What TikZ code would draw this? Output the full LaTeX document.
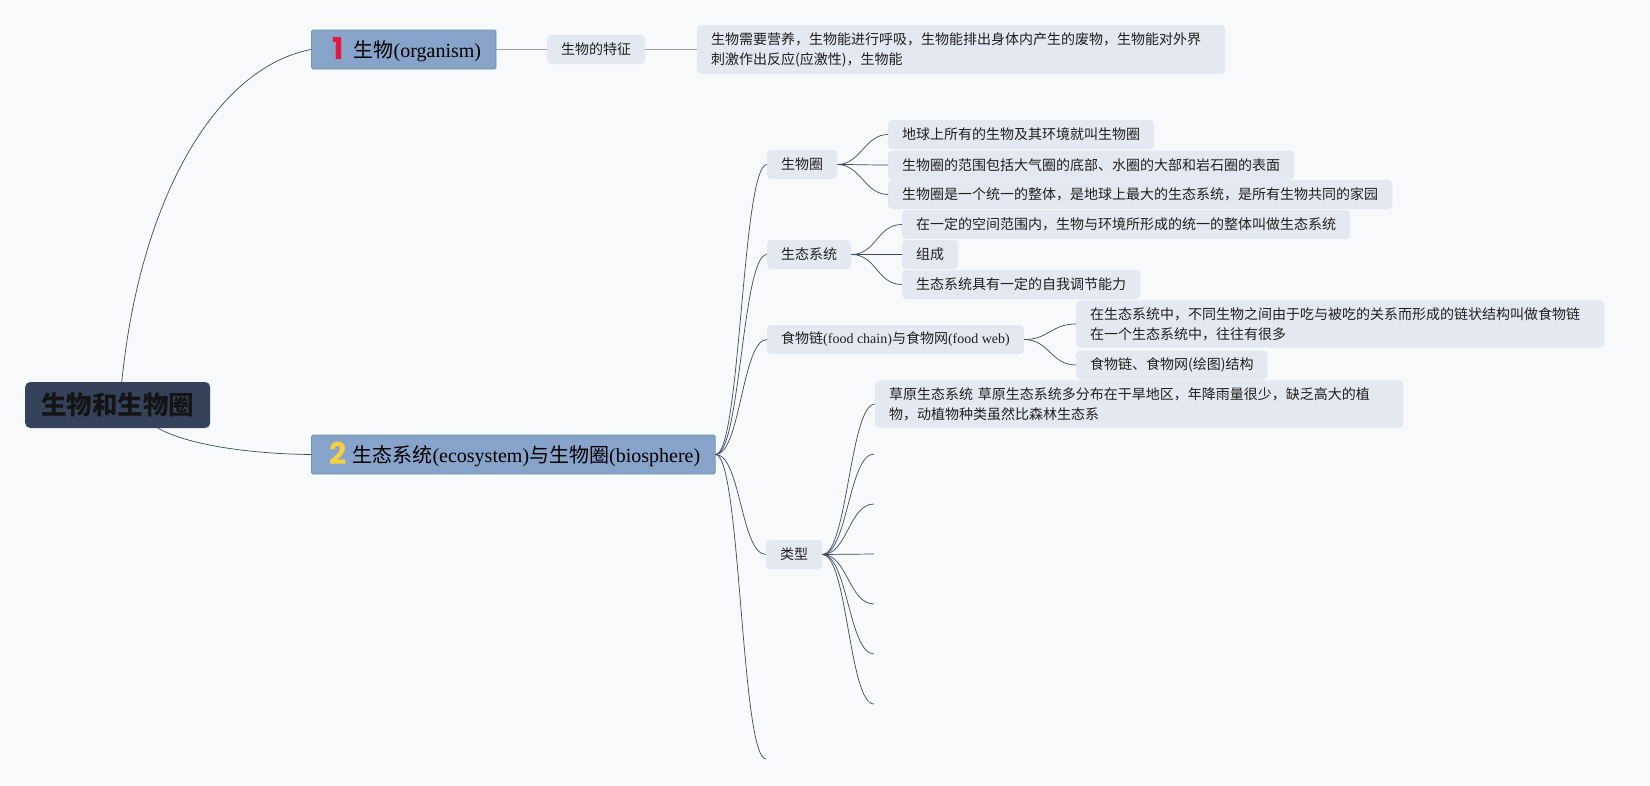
\documentclass[tikz,border=0pt]{standalone}
\usepackage{fontspec}
\setmainfont{Liberation Serif}
\newfontfamily\cjk{Noto Sans CJK SC}
\newfontfamily\numfont{Poppins}
\usepackage{tikz}
\definecolor{bgpage}{HTML}{F8F9FA}
\definecolor{rootfill}{HTML}{34435A}
\definecolor{mainfill}{HTML}{87A3C9}
\definecolor{mainedge}{HTML}{6A9C9C}
\definecolor{subfill}{HTML}{E4E9F1}
\definecolor{linkcol}{HTML}{3E4762}
\definecolor{linkgray}{HTML}{9CA1A8}
\definecolor{numred}{HTML}{E5173F}
\definecolor{numyellow}{HTML}{F4D240}
\newcommand{\zh}[1]{{\cjk #1}}
\tikzset{
  rootnode/.style={fill=rootfill, rounded corners=5pt, inner xsep=16pt, minimum height=46pt,
    font=\cjk\bfseries\fontsize{25.5}{30}\selectfont, text=black!92},
  mainnode/.style={fill=mainfill, draw=mainedge, line width=0.8pt, rounded corners=1.5pt,
    inner xsep=15pt, minimum height=39pt, font=\fontsize{20}{24}\selectfont, text=black},
  subnode/.style={fill=subfill, rounded corners=4pt, inner xsep=14pt, inner ysep=0pt,
    minimum height=29pt, font=\cjk\fontsize{14}{20}\selectfont, text=black!88},
  notebox/.style={subnode, text width=500pt, align=left, inner ysep=7pt},
  link/.style={draw=linkcol, line width=0.7pt},
  plainlink/.style={draw=linkgray, line width=1.1pt}
}
\begin{document}
\begin{tikzpicture}[x=1pt,y=-1pt]
    \useasboundingbox (0,0) rectangle (1650,785);
    \fill[bgpage] (0,0) rectangle (1650,785);
    % root and main branches
    \node[rootnode,anchor=west] (root) at (25,405) {生物和生物圈};
    \node[mainnode,anchor=west] (org) at (311,49.5) {\hspace{6pt}\raisebox{-2pt}{\numfont\bfseries\fontsize{30}{30}\selectfont\color{numred}1}\hspace{10pt}\zh{生物}(organism)};
    \node[mainnode,anchor=west] (eco) at (311,454.5) {\hspace{3pt}\raisebox{-2pt}{\numfont\bfseries\fontsize{30}{30}\selectfont\color{numyellow}2}\hspace{6pt}\zh{生态系统}(ecosystem)\zh{与生物圈}(biosphere)};
    % organism
    \node[subnode,anchor=west] (feat) at (547,49.5) {生物的特征};
    \node[notebox,anchor=west] (featnote) at (697,49.5) {生物需要营养，生物能进行呼吸，生物能排出身体内产生的废物，生物能对外界\\刺激作出反应(应激性)，生物能};
    % ecosystem and biosphere
    \node[subnode,anchor=west] (sw) at (767,164.5) {生物圈};
    \node[subnode,anchor=west] (sw1) at (888,134.5) {地球上所有的生物及其环境就叫生物圈};
    \node[subnode,anchor=west] (sw2) at (888,165) {生物圈的范围包括大气圈的底部、水圈的大部和岩石圈的表面};
    \node[subnode,anchor=west] (sw3) at (888,194.5) {生物圈是一个统一的整体，是地球上最大的生态系统，是所有生物共同的家园};
    \node[subnode,anchor=west] (st) at (767,254.5) {生态系统};
    \node[subnode,anchor=west] (st1) at (902,224.5) {在一定的空间范围内，生物与环境所形成的统一的整体叫做生态系统};
    \node[subnode,anchor=west] (st2) at (902,254.5) {组成};
    \node[subnode,anchor=west] (st3) at (902,284.5) {生态系统具有一定的自我调节能力};
    \node[subnode,anchor=west] (fc) at (767,339.5) {食物链{\rmfamily(food chain)}与食物网{\rmfamily(food web)}};
    \node[notebox,anchor=west] (fc1) at (1076,324) {在生态系统中，不同生物之间由于吃与被吃的关系而形成的链状结构叫做食物链\\在一个生态系统中，往往有很多};
    \node[subnode,anchor=west] (fc2) at (1076,365) {食物链、食物网(绘图)结构};
    \node[subnode,anchor=west] (ty) at (766,554.5) {类型};
    \node[notebox,anchor=west] (ty1) at (875,404) {草原生态系统 草原生态系统多分布在干旱地区，年降雨量很少，缺乏高大的植\\物，动植物种类虽然比森林生态系};
    \coordinate (ty2) at (874,454);
    \coordinate (ty3) at (874,504);
    \coordinate (ty4) at (874,554);
    \coordinate (ty5) at (874,604);
    \coordinate (ty6) at (874,654);
    \coordinate (ty7) at (874,704);
    \coordinate (ecoend) at (766,759);
    % connectors
    \draw[link] (root.80) .. controls (140,200) and (215,68) .. (org.west);
    \draw[link] (root.-30) .. controls (190,446) and (255,454) .. (eco.west);
    \draw[plainlink] (org.east) -- (feat.west);
    \draw[plainlink] (feat.east) -- (featnote.west);
    \draw[link] (eco.east) .. controls +(25,0) and +(-25,0) .. (sw.west);
    \draw[link] (eco.east) .. controls +(25,0) and +(-25,0) .. (st.west);
    \draw[link] (eco.east) .. controls +(25,0) and +(-25,0) .. (fc.west);
    \draw[link] (eco.east) .. controls +(25,0) and +(-25,0) .. (ty.west);
    \draw[link] (eco.east) .. controls +(25,0) and +(-25,0) .. (ecoend);
    \draw[link] (sw.east) .. controls +(23,0) and +(-23,0) .. (sw1.west);
    \draw[link] (sw.east) .. controls +(23,0) and +(-23,0) .. (sw2.west);
    \draw[link] (sw.east) .. controls +(23,0) and +(-23,0) .. (sw3.west);
    \draw[link] (st.east) .. controls +(25,0) and +(-25,0) .. (st1.west);
    \draw[link] (st.east) .. controls +(25,0) and +(-25,0) .. (st2.west);
    \draw[link] (st.east) .. controls +(25,0) and +(-25,0) .. (st3.west);
    \draw[link] (fc.east) .. controls +(25,0) and +(-25,0) .. (fc1.west);
    \draw[link] (fc.east) .. controls +(25,0) and +(-25,0) .. (fc2.west);
    \draw[link] (ty.east) .. controls +(25,0) and +(-25,0) .. (ty1.west);
    \draw[link] (ty.east) .. controls +(25,0) and +(-25,0) .. (ty2);
    \draw[link] (ty.east) .. controls +(25,0) and +(-25,0) .. (ty3);
    \draw[link] (ty.east) .. controls +(25,0) and +(-25,0) .. (ty4);
    \draw[link] (ty.east) .. controls +(25,0) and +(-25,0) .. (ty5);
    \draw[link] (ty.east) .. controls +(25,0) and +(-25,0) .. (ty6);
    \draw[link] (ty.east) .. controls +(25,0) and +(-25,0) .. (ty7);
\end{tikzpicture}
\end{document}
